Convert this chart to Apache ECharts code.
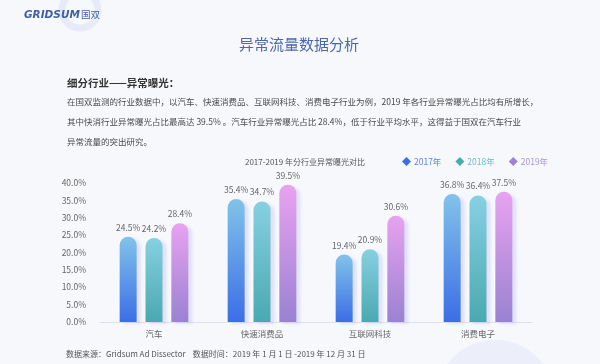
<!DOCTYPE html>
<html><head><meta charset="utf-8">
<script src="https://cdn.jsdelivr.net/npm/echarts@6/dist/echarts.min.js"></script>
<style>html,body{margin:0;padding:0;background:#f7f8fc;}#c{width:600px;height:364px;}</style>
</head><body><div id="c"></div>
<script>
const categories = ['汽车', '快速消费品', '互联网科技', '消费电子'];
const seriesNames = ['2017年', '2018年', '2019年'];
const v2017 = [24.5, 35.4, 19.4, 36.8];
const v2018 = [24.2, 34.7, 20.9, 36.4];
const v2019 = [28.4, 39.5, 30.6, 37.5];
const yTicks = [0, 5, 10, 15, 20, 25, 30, 35, 40];

const ff = '"Noto Sans CJK SC", "Noto Sans", sans-serif';
const grads = [
  ['#82c3ea', '#3b6ee6'],
  ['#86d0e2', '#4aa9b0'],
  ['#e8a2f0', '#9a82d2']
];
const iconColors = ['#3c6fe2', '#4aabb3', '#9c82d4'];
const textColors = ['#5b86e0', '#6cbcc8', '#ab94dc'];
const values = [v2017, v2018, v2019];

const chart = echarts.init(document.getElementById('c'));
chart.setOption({
  backgroundColor: '#f7f8fc',
  title: {
    text: '2017-2019 年分行业异常曝光对比',
    left: 300, top: 153, textAlign: 'center',
    textStyle: { fontSize: 8, fontWeight: 'normal', color: '#555', fontFamily: ff }
  },
  legend: {
    top: 152, left: 397, itemGap: 14, itemWidth: 9, itemHeight: 9,
    icon: 'diamond',
    data: seriesNames.map((n, i) => ({ name: n, itemStyle: { color: iconColors[i] }, textStyle: { color: textColors[i] } })),
    textStyle: { fontSize: 8.5, fontFamily: ff, padding: [0, 0, 0, -2] }
  },
  grid: { left: 100, right: 68, top: 183, bottom: 42 },
  xAxis: {
    type: 'category', data: categories,
    axisLine: { lineStyle: { color: '#dfe1ea' } },
    axisTick: { show: false },
    axisLabel: { fontSize: 8.5, color: '#666', fontFamily: ff, margin: 8 }
  },
  yAxis: {
    type: 'value', min: 0, max: 40, interval: 5,
    axisLine: { show: false }, axisTick: { show: false }, splitLine: { show: false },
    axisLabel: { fontSize: 8.5, color: '#666', fontFamily: ff, margin: 14, formatter: v => v.toFixed(1) + '%' }
  },
  series: seriesNames.map((n, i) => ({
    name: n, type: 'bar', data: values[i], barWidth: 17, barGap: '52%',
    itemStyle: {
      borderRadius: [8.5, 8.5, 0, 0],
      color: new echarts.graphic.LinearGradient(0, 0, 0, 1, [
        { offset: 0, color: grads[i][0] }, { offset: 1, color: grads[i][1] }
      ]),
      shadowColor: 'rgba(170,170,235,0.3)', shadowBlur: 3, shadowOffsetX: 4, shadowOffsetY: 2
    },
    label: { show: true, position: 'top', distance: 5, fontSize: 8.5, color: '#666', fontFamily: ff, formatter: p => p.value.toFixed(1) + '%' }
  })),
  graphic: [
    { type: 'circle', shape: { cx: 80, cy: 10, r: 18 }, style: { fill: 'none', stroke: 'rgba(200,210,240,0.35)', lineWidth: 7 }, silent: true, z: -1 },
    { type: 'circle', shape: { cx: 495, cy: 400, r: 60 }, style: { fill: 'rgba(225,230,248,0.5)' }, silent: true, z: -1 },
    { type: 'text', left: 24, top: 10, style: { text: 'GRIDSUM', fontSize: 10.5, fontWeight: 'bold', fontStyle: 'italic', fill: '#3c5fa6', fontFamily: '"DejaVu Sans", sans-serif' } },
    { type: 'text', left: 81, top: 10, style: { text: '国双', fontSize: 9.5, fill: '#3c5fa6', fontFamily: ff } },
    { type: 'text', left: 239, top: 37, style: { text: '异常流量数据分析', fontSize: 15, fill: '#4a68b0', fontFamily: ff } },
    { type: 'text', left: 67, top: 78, style: { text: '细分行业——异常曝光：', fontSize: 10.5, fontWeight: 'bold', fill: '#333', fontFamily: ff } },
    { type: 'text', left: 67, top: 98, style: { text: '在国双监测的行业数据中，以汽车、快速消费品、互联网科技、消费电子行业为例，2019 年各行业异常曝光占比均有所增长，', fontSize: 8.5, fill: '#4a4a4a', fontFamily: ff } },
    { type: 'text', left: 67, top: 118, style: { text: '其中快消行业异常曝光占比最高达 39.5% 。汽车行业异常曝光占比 28.4%，低于行业平均水平，这得益于国双在汽车行业', fontSize: 8.5, fill: '#4a4a4a', fontFamily: ff } },
    { type: 'text', left: 67, top: 138, style: { text: '异常流量的突出研究。', fontSize: 8.5, fill: '#4a4a4a', fontFamily: ff } },
    { type: 'text', left: 66, top: 350, style: { text: '数据来源：Gridsum Ad Dissector    数据时间：2019 年 1 月 1 日 -2019 年 12 月 31 日', fontSize: 8, fill: '#555', fontFamily: ff } }
  ]
});
</script></body></html>
